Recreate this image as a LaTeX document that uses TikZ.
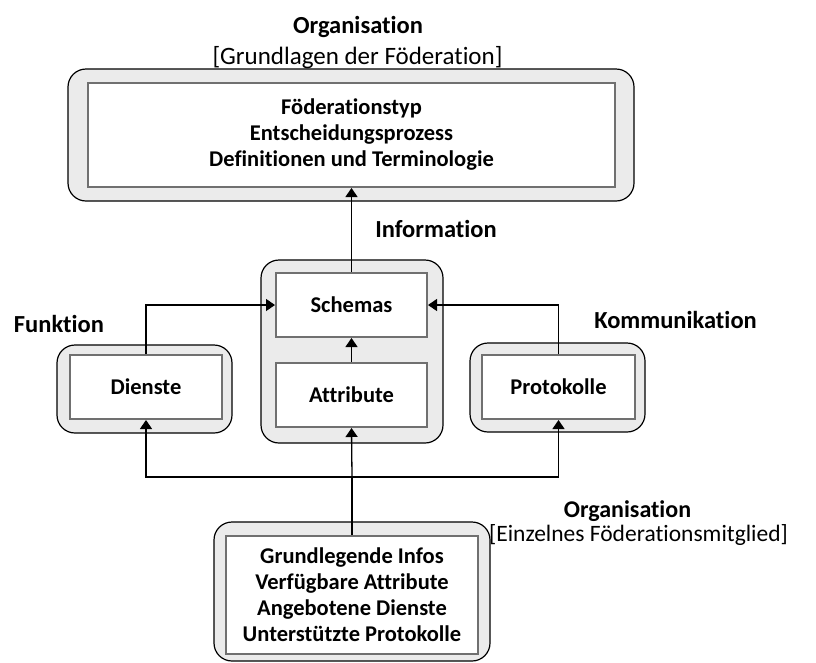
\documentclass[tikz,border=0pt]{standalone}
\usepackage{fontspec}
\setmainfont{Carlito}[Ligatures=NoCommon]
\usetikzlibrary{arrows.meta}
\definecolor{outerfill}{HTML}{EBEBEB}
\definecolor{innerline}{HTML}{707070}
\tikzset{
  outerbox/.style={draw=black, line width=1.2pt, fill=outerfill, rounded corners=18pt, inner sep=0pt},
  innerbox/.style={draw=innerline, line width=2pt, fill=white, inner sep=0pt, align=center,
    font=\fontsize{22.5}{26}\selectfont\bfseries},
  conn/.style={line width=1.3pt, -{Triangle[width=12pt,length=9pt]}},
  thickconn/.style={line width=2.8pt},
  lab/.style={anchor=base, inner sep=0pt, font=\fontsize{24.5}{28}\selectfont\bfseries},
  sublab/.style={anchor=base, inner sep=0pt, font=\fontsize{25}{28}\selectfont},
}
\begin{document}
\begin{tikzpicture}[x=1pt,y=-1pt]
\useasboundingbox (0,0) rectangle (816,662);
% outer containers
\node[outerbox, minimum width=566pt, minimum height=132pt] (topouter) at (351,135) {};
\node[outerbox, minimum width=182pt, minimum height=183pt] (infoouter) at (352,351.5) {};
\node[outerbox, minimum width=175pt, minimum height=88pt] (funkouter) at (144.5,389) {};
\node[outerbox, minimum width=175pt, minimum height=89pt] (kommouter) at (557.5,387.5) {};
\node[outerbox, minimum width=276pt, minimum height=139pt] (botouter) at (352,591.5) {};
% inner boxes
\node[innerbox, minimum width=527pt, minimum height=104pt] (topinner) at (351.5,135)
  {Föderationstyp\\Entscheidungsprozess\\Definitionen und Terminologie};
\node[innerbox, minimum width=151pt, minimum height=64pt] (schemas) at (351.5,305) {Schemas};
\node[innerbox, minimum width=151pt, minimum height=64pt] (attr) at (351.5,395) {Attribute};
\node[innerbox, minimum width=152pt, minimum height=64pt] (dienste) at (146,387) {Dienste};
\node[innerbox, minimum width=153pt, minimum height=64pt] (proto) at (558.5,387) {Protokolle};
\node[innerbox, minimum width=252pt, minimum height=118pt] (botinner) at (352,595)
  {Grundlegende Infos\\Verfügbare Attribute\\Angebotene Dienste\\Unterstützte Protokolle};
% labels
\node[lab] (l1) at (358,33) {Organisation};
\node[sublab] (l2) at (357.5,64) {[Grundlagen der Föderation]};
\node[lab] (l3) at (436,237) {Information};
\node[lab] (l4) at (59,332) {Funktion};
\node[lab] (l5) at (675.5,328) {Kommunikation};
\node[lab, font=\fontsize{24}{28}\selectfont\bfseries] (l6) at (627.5,517) {Organisation};
\node[sublab, font=\fontsize{23.5}{28}\selectfont] (l7) at (638.5,541) {[Einzelnes Föderationsmitglied]};
% connectors
\coordinate (j) at (352,477);
\draw[conn] (schemas.north) -- (topinner.south);
\draw[conn] (attr.north) -- (schemas.south);
\draw[conn] (dienste.north) |- (schemas.west);
\draw[conn] (proto.north) |- (schemas.east);
\draw[thickconn] (botinner.north) -- (j);
\draw[conn] (j) -- (attr.south);
\draw[conn] (j) -| (dienste.south);
\draw[conn] (j) -| (proto.south);
\end{tikzpicture}
\end{document}
